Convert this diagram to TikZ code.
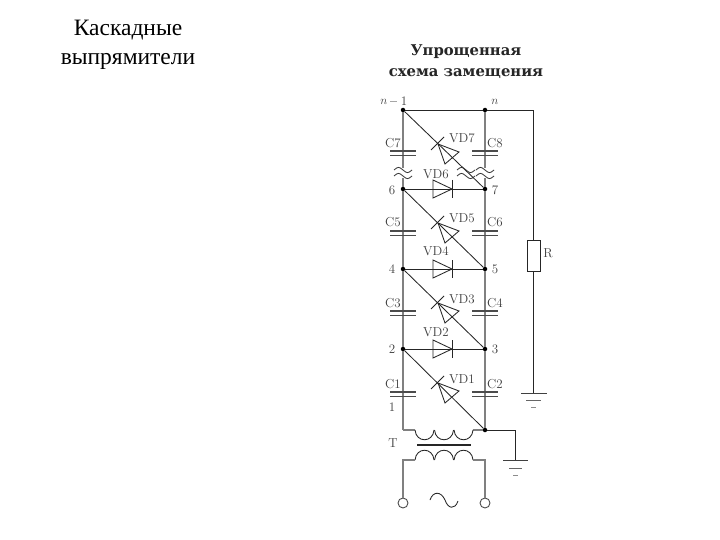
\documentclass[tikz,border=0pt]{standalone}
\usepackage{fontspec}
\setmainfont{Liberation Serif}
\newfontfamily\lmfont{Latin Modern Roman}
\newfontfamily\subfont{DejaVu Serif}
\tikzset{
  railw/.style={draw=black!50,line width=1.1pt},
  wire/.style={draw=black!85,line width=0.85pt},
  plate/.style={draw=black!70,line width=1.1pt},
  gnd/.style={draw=black!75,line width=0.9pt},
  dot/.style={circle,fill=black,inner sep=0pt,minimum size=4.5pt},
  lab/.style={inner sep=0pt,font=\lmfont\fontsize{13}{13}\selectfont,text=black!75},
  term/.style={circle,draw=black!70,line width=0.9pt,fill=white,inner sep=0pt,minimum size=10pt},
  breakw/.style={draw=black!80,line width=0.8pt}
}
\newcommand{\capa}[2]{% x, y of upper plate
  \draw[plate] (#1-13,#2) -- (#1+13,#2);
  \draw[plate] (#1-13,#2+4.5) -- (#1+13,#2+4.5);}
\newcommand{\hdiode}[1]{% y
  \draw[wire] (433,#1-9) -- (452,#1) -- (433,#1+9) -- cycle;
  \draw[wire] (452,#1-9) -- (452,#1+9);}
\newcommand{\ddiode}[1]{% top y of diagonal
  \draw[wire] (438,#1+34) -- (459,#1+42) -- (445,#1+54) -- cycle;
  \draw[wire] (431,#1+40) -- (444,#1+27);}
\newcommand{\wav}[2]{% x start, y
  \draw[breakw] (#1,#2) .. controls (#1+4,#2-3.5) and (#1+5,#2-3.5) .. (#1+9,#2) .. controls (#1+13,#2+3.5) and (#1+14,#2+3.5) .. (#1+18,#2);}
\newcommand{\hump}[3]{% x start, y, direction
  \draw[wire] (#1,#2) .. controls (#1+1,#2+#3*13) and (#1+18,#2+#3*13) .. (#1+19,#2);}
\begin{document}
\begin{tikzpicture}[x=1pt,y=-1pt]
\useasboundingbox (0,0) rectangle (720,540);
\fill[white] (0,0) rectangle (720,540);
% titles
\node[inner sep=0pt,align=center,font=\fontsize{23.5}{29}\selectfont] (ttl) at (128,45) {Каскадные\\выпрямители};
\node[inner sep=0pt,align=center,font=\subfont\bfseries\fontsize{14.8}{21}\selectfont,text=black!85] (sub) at (466,62) {Упрощенная\\схема замещения};
% junctions
\node[dot] (t1) at (403,110) {};
\node[dot] (tn) at (485,110) {};
\node[dot] (n6) at (403,189) {};
\node[dot] (n7) at (485,189) {};
\node[dot] (n4) at (403,269) {};
\node[dot] (n5) at (485,269) {};
\node[dot] (n2) at (403,349) {};
\node[dot] (n3) at (485,349) {};
\node[dot] (n0) at (485,430) {};
\coordinate (b1) at (403,430);
\coordinate (br) at (533.5,110);
\coordinate (gr) at (533.5,393);
\coordinate (l1) at (403,168);
\coordinate (l2) at (403,178);
\coordinate (r1) at (485,168);
\coordinate (r2) at (485,178);
% rails
\draw[railw] (t1) -- (l1);
\draw[railw] (l2) -- (n6) -- (n4) -- (n2) -- (b1);
\draw[railw] (tn) -- (r1);
\draw[railw] (r2) -- (n7) -- (n5) -- (n3) -- (n0);
% top and R
\node[draw=black!85,fill=white,line width=1pt,minimum width=13pt,minimum height=31pt,inner sep=0pt] (R) at (533.5,255.5) {};
\draw[wire] (t1) -- (tn) -- (br) -- (R.north);
\draw[wire] (R.south) -- (gr);
% horizontals and diagonals
\draw[wire] (n6) -- (n7);
\draw[wire] (n4) -- (n5);
\draw[wire] (n2) -- (n3);
\draw[wire] (t1) -- (n7);
\draw[wire] (n6) -- (n5);
\draw[wire] (n4) -- (n3);
\draw[wire] (n2) -- (n0);
% capacitors
\foreach \xx in {403,485}{
  \capa{\xx}{151}\capa{\xx}{231}\capa{\xx}{311}\capa{\xx}{392}
  \wav{\xx-9}{170}\wav{\xx-9}{176}}
\wav{457}{170}\wav{457}{176}
% diodes
\hdiode{189}\hdiode{269}\hdiode{349}
\ddiode{110}\ddiode{189}\ddiode{269}\ddiode{349}
% ground right rail
\draw[gnd] (521,393) -- (547,393);
\draw[gnd,draw=black!60] (526,400) -- (541,400);
\draw[gnd,draw=black!45] (531,407) -- (536,407);
% transformer
\coordinate (tl) at (415,430);
\coordinate (tr) at (473,430);
\coordinate (g2) at (515,430);
\coordinate (g3) at (515,460);
\draw[railw] (b1) -- (tl);
\draw[railw] (tr) -- (n0);
\draw[wire] (n0) -- (g2) -- (g3);
\hump{415}{430}{1}\hump{434.5}{430}{1}\hump{454}{430}{1}
\draw[draw=black!85,line width=1.5pt] (417,445) -- (471,445);
\hump{415}{460}{-1}\hump{434.5}{460}{-1}\hump{454}{460}{-1}
\node[term] (c1) at (403,503) {};
\node[term] (c2) at (485,503) {};
\coordinate (p1) at (403,460);
\coordinate (p2) at (485,460);
\coordinate (p1a) at (415,460);
\coordinate (p2a) at (473,460);
\draw[railw] (c1) -- (p1) -- (p1a);
\draw[railw] (c2) -- (p2) -- (p2a);
% ground 2
\draw[gnd] (503,460) -- (528,460);
\draw[gnd,draw=black!60] (509,468) -- (522,468);
\draw[gnd,draw=black!45] (513,475) -- (518,475);
% source
\draw[wire] (430,500) .. controls (433,491) and (441,491) .. (445,500) .. controls (448,509) and (455,510) .. (458,501);
% labels
\node[lab,font=\lmfont\itshape\fontsize{12}{12}\selectfont] (ln1) at (384,102) {$n$};
\draw[black!35,line width=0.5pt] (390,101) -- (397,101);
\node[lab] (l1t) at (404,101) {1};
\node[lab,font=\lmfont\itshape\fontsize{12}{12}\selectfont] (lnn) at (495,102) {$n$};
\node[lab] at (393,143) {C7};
\node[lab] at (495,143) {C8};
\node[lab] at (462,138) {VD7};
\node[lab] at (436,174) {VD6};
\node[lab] at (392,190) {6};
\node[lab] at (495,190) {7};
\node[lab] at (393,222) {C5};
\node[lab] at (495,222) {C6};
\node[lab] at (462,218) {VD5};
\node[lab] at (436,251) {VD4};
\node[lab] at (392,269) {4};
\node[lab] at (495,269) {5};
\node[lab] at (393,303) {C3};
\node[lab] at (495,303) {C4};
\node[lab] at (462,299) {VD3};
\node[lab] at (436,332) {VD2};
\node[lab] at (392,349) {2};
\node[lab] at (495,349) {3};
\node[lab] at (393,384) {C1};
\node[lab] at (495,384) {C2};
\node[lab] at (462,379) {VD1};
\node[lab] at (392,407) {1};
\node[lab] at (393,443) {T};
\node[lab] at (548,253) {R};
\end{tikzpicture}
\end{document}
